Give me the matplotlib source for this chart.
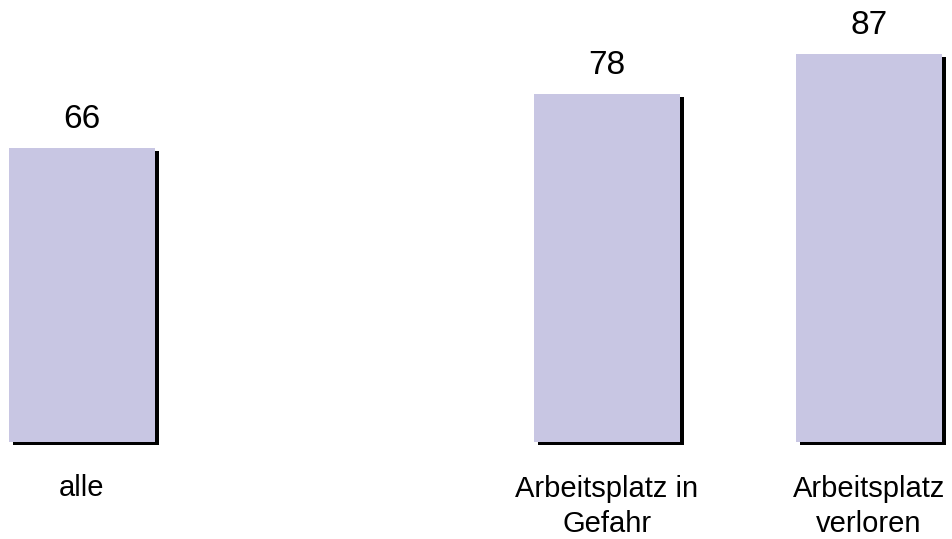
import matplotlib.pyplot as plt
import matplotlib.patheffects as pe

plt.rcParams['font.family'] = ['Liberation Sans', 'DejaVu Sans']

# slot 1 stays empty in the original chart
positions = [0, 2, 3]
values = [66, 78, 87]
labels = ['alle', 'Arbeitsplatz in\nGefahr', 'Arbeitsplatz\nverloren']

bar_color = '#C8C6E3'

fig = plt.figure(figsize=(9.53, 5.39), dpi=100)
ax = fig.add_axes([0, 0, 1, 1])

bars = ax.bar(positions, values, width=0.557, color=bar_color, zorder=2)
for b in bars:
    b.set_path_effects([
        pe.SimplePatchShadow(offset=(2.9, -2.2), shadow_rgbFace='black', alpha=1),
        pe.Normal(),
    ])

line_gap = 8.07  # distance between label lines, in data units
for x, v, lab in zip(positions, values, labels):
    ax.text(x, v + 4.5, str(v), ha='center', va='baseline', fontsize=24)
    # baseline alignment uses the last line, so shift down per extra line
    n = lab.count('\n')
    ax.text(x, -12.1 - n * line_gap, lab, ha='center', va='baseline',
            fontsize=21, linespacing=1.32, multialignment='center')

ax.set_xlim(-0.3126, 3.3206)
ax.set_ylim(-21.75, 99.1)
ax.axis('off')

fig.savefig('out.png', dpi=100)
